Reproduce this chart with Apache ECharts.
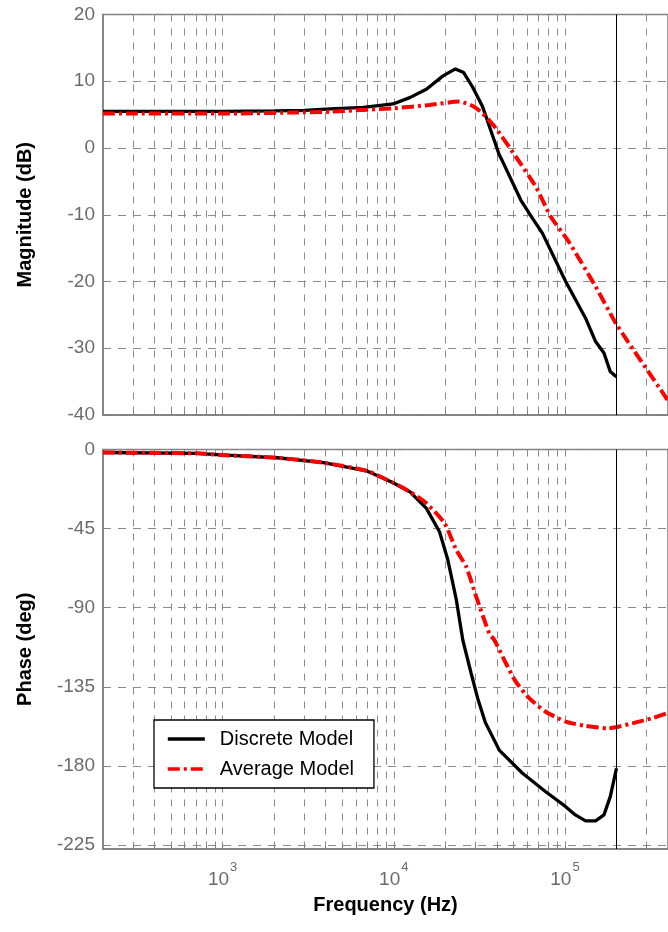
<!DOCTYPE html>
<html>
<head>
<meta charset="utf-8">
<script src="https://cdn.jsdelivr.net/npm/echarts@6/dist/echarts.min.js"></script>
<style>
  html, body { margin: 0; padding: 0; background: #fff; }
  #bode-chart { width: 668px; height: 932px; }
</style>
</head>
<body>
<div id="bode-chart"></div>
<script>
// magnitude (dB), frequency in Hz
const magFreqDiscrete = [200, 1000, 2000, 3000, 4250, 6640, 9900, 12400, 15500, 19400, 22900, 25600, 28900, 33000, 41300, 43200, 55200, 64500, 73800, 101000, 132000, 151000, 169000, 184000, 200000];
const magDiscrete = [5.5, 5.5, 5.55, 5.65, 5.85, 6.1, 6.6, 7.55, 8.8, 10.8, 11.85, 11.3, 9.1, 6.2, -1.0, -2.0, -7.8, -10.5, -12.75, -20.0, -25.5, -29.0, -30.7, -33.5, -34.3];
const magFreqAverage = [200, 1000, 2480, 4250, 9900, 16200, 24200, 28900, 33000, 39500, 51600, 67600, 82700, 105000, 151000, 201000, 385000, 450000];
const magAverage = [5.15, 5.15, 5.3, 5.45, 5.95, 6.45, 6.95, 6.3, 5.2, 2.95, -1.3, -5.8, -10.3, -14.0, -20.75, -26.5, -37.2, -39.6];

// phase (deg)
const phaseFreqDiscrete = [200, 713, 973, 2080, 3880, 6930, 9900, 12400, 15500, 18500, 20700, 23200, 25300, 28300, 30900, 34300, 41300, 56500, 77200, 101000, 115000, 132000, 151000, 169000, 184000, 200000];
const phaseDiscrete = [-1.7, -2.2, -3.1, -4.7, -7.5, -12.1, -18.9, -24.0, -33.5, -46.8, -62.9, -85.6, -108.4, -127.3, -141.5, -155.4, -171.0, -184.2, -194.7, -203.2, -207.9, -211.3, -211.3, -207.9, -197.5, -181.4];
const phaseFreqAverage = [200, 713, 973, 2080, 3880, 6930, 9900, 12400, 15500, 19800, 23200, 26500, 30300, 36100, 38700, 45200, 51600, 61800, 77200, 101000, 132000, 180000, 247000, 322000, 393000, 450000];
const phaseAverage = [-1.7, -2.2, -3.1, -4.7, -7.5, -12.1, -18.9, -24.0, -30.6, -42.0, -57.2, -66.7, -83.7, -104.6, -108.4, -121.6, -132.1, -141.5, -149.2, -154.8, -157.3, -158.6, -155.8, -152.9, -150.1, -148.0];

const freqMin = 200;
const freqMax = 400000;
const nyquistFreq = 200000;
const decadeLabels = [3, 4, 5];
const phaseTicks = [0, -45, -90, -135, -180, -225];
const seriesNames = ["Discrete Model", "Average Model"];

const font = "Liberation Sans, Arial, sans-serif";
const gridGrey = "#8a8a8a";
const labelGrey = "#6b6b6b";

function toPoints(freqs, values) {
  return freqs.map((f, i) => [Math.log10(f), values[i]]);
}

// log grid lines 1..9 x 10^n inside the range
let freqGrid = [];
for (let n = 2; n <= 5; n++) {
  for (let k = 1; k <= 9; k++) {
    let f = k * Math.pow(10, n);
    if (f > freqMin && f < freqMax) freqGrid.push(Math.log10(f));
  }
}

let chart = echarts.init(document.getElementById("bode-chart"));

function xAxisFor(idx) {
  let showLabel = idx === 1;
  return {
    type: "value",
    gridIndex: idx,
    min: Math.log10(freqMin),
    max: Math.log10(freqMax),
    axisLine: { show: true, onZero: false, lineStyle: { color: "#7f7f7f", width: 1.5 } },
    axisTick: {
      show: true, inside: true, length: 4,
      customValues: freqGrid,
      lineStyle: { color: "#7f7f7f" }
    },
    splitLine: { show: true, lineStyle: { color: gridGrey, type: [7, 7], width: 1 } },
    axisLabel: {
      show: showLabel,
      customValues: decadeLabels,
      margin: 9,
      formatter: function(v) {
        return "{a|10}{b|" + Math.round(v) + "}";
      },
      rich: {
        a: { fontSize: 19, fontFamily: font, color: labelGrey, padding: [12, 0, 0, 0] },
        b: { fontSize: 13, fontFamily: font, color: labelGrey, padding: [0, 0, 12, 1] }
      }
    },
    name: showLabel ? "Frequency (Hz)" : "",
    nameLocation: "middle",
    nameGap: 46,
    nameTextStyle: { fontSize: 20, fontWeight: "bold", color: "#000", fontFamily: font }
  };
}

function yAxisBase(idx, name) {
  return {
    type: "value",
    gridIndex: idx,
    axisLine: { show: true, lineStyle: { color: "#7f7f7f", width: 1.5 } },
    axisTick: { show: true, inside: true, length: 5, lineStyle: { color: "#7f7f7f" } },
    splitLine: { show: true, lineStyle: { color: gridGrey, type: [8, 7], width: 1 } },
    axisLabel: { fontSize: 19, fontFamily: font, color: labelGrey, margin: 8 },
    name: name,
    nameLocation: "middle",
    nameGap: 68,
    nameTextStyle: { fontSize: 20, fontWeight: "bold", color: "#000", fontFamily: font }
  };
}

let magAxis = yAxisBase(0, "Magnitude (dB)");
magAxis.min = -40;
magAxis.max = 20;
magAxis.interval = 10;

let phaseAxis = yAxisBase(1, "Phase (deg)");
phaseAxis.min = -227.3;
phaseAxis.max = 0;
phaseAxis.axisTick.customValues = phaseTicks;
phaseAxis.axisLabel.customValues = phaseTicks;

let nyquistLine = {
  silent: true,
  symbol: "none",
  label: { show: false },
  lineStyle: { color: "#000", type: "solid", width: 1 },
  data: [{ xAxis: Math.log10(nyquistFreq) }]
};

let discreteStyle = { color: "#000", width: 3.3, type: "solid" };
let averageStyle = { color: "#ff0000", width: 4, type: [12, 4, 3, 4] };

let option = {
  animation: false,
  backgroundColor: "#fff",
  grid: [
    { left: 103, top: 14.5, right: -2, height: 400.5, show: true, borderColor: "#7f7f7f", borderWidth: 1.5 },
    { left: 103, top: 449.5, right: -2, height: 399.5, show: true, borderColor: "#7f7f7f", borderWidth: 1.5 }
  ],
  xAxis: [xAxisFor(0), xAxisFor(1)],
  yAxis: [magAxis, phaseAxis],
  legend: {
    data: seriesNames,
    orient: "vertical",
    left: 154,
    top: 720,
    itemWidth: 37,
    itemHeight: 14,
    itemGap: 10,
    padding: [9, 20, 9, 12],
    borderColor: "#000",
    borderWidth: 1.3,
    backgroundColor: "#fff",
    itemStyle: { opacity: 0 },
    lineStyle: { width: 3.6 },
    textStyle: { fontSize: 20, color: "#000", fontFamily: font, padding: [0, 0, 0, 10] }
  },
  series: [
    {
      name: seriesNames[0], type: "line", xAxisIndex: 0, yAxisIndex: 0,
      data: toPoints(magFreqDiscrete, magDiscrete),
      showSymbol: false, color: "#000", lineStyle: discreteStyle, z: 3,
      markLine: nyquistLine
    },
    {
      name: seriesNames[1], type: "line", xAxisIndex: 0, yAxisIndex: 0,
      data: toPoints(magFreqAverage, magAverage),
      showSymbol: false, smooth: 0.2, color: "#ff0000", lineStyle: averageStyle, z: 4
    },
    {
      name: seriesNames[0], type: "line", xAxisIndex: 1, yAxisIndex: 1,
      data: toPoints(phaseFreqDiscrete, phaseDiscrete),
      showSymbol: false, color: "#000", lineStyle: discreteStyle, z: 3,
      markLine: nyquistLine
    },
    {
      name: seriesNames[1], type: "line", xAxisIndex: 1, yAxisIndex: 1,
      data: toPoints(phaseFreqAverage, phaseAverage),
      showSymbol: false, smooth: 0.2, color: "#ff0000", lineStyle: averageStyle, z: 4
    }
  ]
};

chart.setOption(option);
</script>
</body>
</html>
